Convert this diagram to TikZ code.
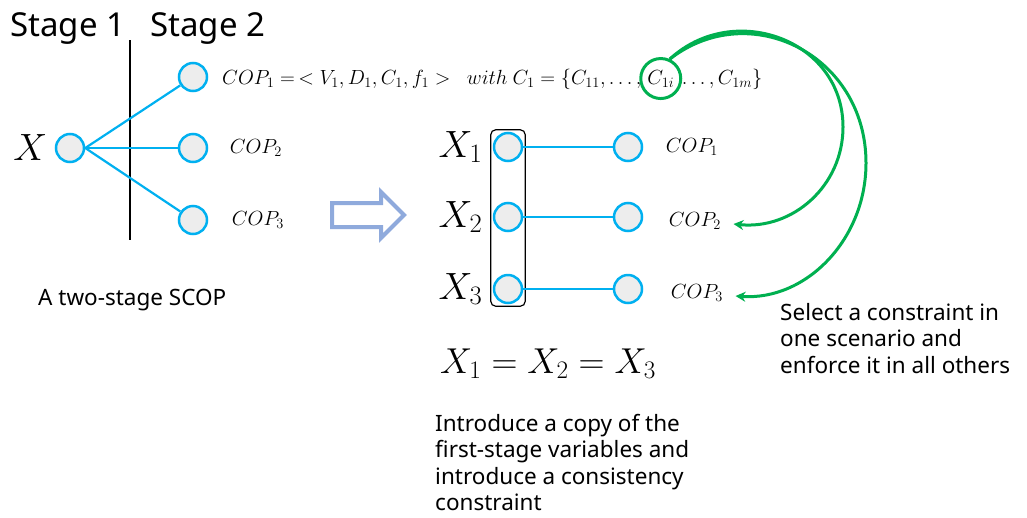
\documentclass[tikz,border=0pt]{standalone}
\usepackage{fix-cm}
\usepackage{fontspec}
\setmainfont{Noto Sans}
\usetikzlibrary{positioning,fit,shapes.arrows,arrows.meta}
\definecolor{linkblue}{RGB}{0,176,240}
\definecolor{nodegray}{RGB}{237,237,237}
\definecolor{pickgreen}{RGB}{0,176,80}
\definecolor{arrowblue}{RGB}{143,170,220}
\tikzset{
  var/.style={circle,draw=linkblue,fill=nodegray,line width=2.5pt,minimum size=28pt,inner sep=0pt},
  link/.style={draw=linkblue,line width=2.2pt},
  pick/.style={draw=pickgreen,line width=3pt,-{Stealth[length=10pt,width=10pt]}},
  ring/.style={circle,draw=pickgreen,line width=3pt,minimum size=40pt,inner sep=0pt,anchor=base},
  big/.style={font=\fontsize{38}{44}\selectfont},
  small/.style={font=\fontsize{20.5}{24}\selectfont},
  note/.style={font=\fontsize{22.5}{26.5}\selectfont,align=left,anchor=north west,inner sep=0pt},
}
\begin{document}
\begin{tikzpicture}[x=1pt,y=-1pt]
\useasboundingbox (0,0) rectangle (1027,517);
% the two-stage problem
\node[font=\fontsize{33}{38}\selectfont,anchor=base west,inner sep=0pt] (st1) at (10,36) {Stage 1};
\node[font=\fontsize{33}{38}\selectfont,anchor=base west,inner sep=0pt] (st2) at (150,36) {Stage 2};
\coordinate (cutTop) at (130,40);
\coordinate (cutBot) at (130,240);
\draw[line width=2.5pt] (cutTop) -- (cutBot);

\node[var] (x) at (70,148) {};
\node[big,left=4pt of x] (lx) {$X$};
\node[var] (a1) at (193,77) {};
\node[var] (a2) at (193,148) {};
\node[var] (a3) at (193,220) {};
\foreach \i in {1,2,3}
  \draw[link] (x.east) -- (a\i);

\node[small,anchor=base west,inner sep=0pt] (d1a) at (222,84)
  {$COP_1 = \,<V_1,D_1,C_1,f_1>\ \ with\ C_1=\{C_{11},\dots,$};
\node[small,ring] (c1i) at ([xshift=19pt]d1a.base east) {$C_{1i}$};
\node[small,anchor=base west,inner sep=0pt] (d1b) at ([xshift=21pt]c1i.base) {$\dots,C_{1m}\}$};
\node[small,right=18pt of a2] (la2) {$COP_2$};
\node[small,right=20pt of a3] (la3) {$COP_3$};

\node[font=\fontsize{22.5}{26}\selectfont,anchor=base west,inner sep=0pt] (cap1) at (38,305) {A two-stage SCOP};

% reformulation
\node[single arrow,draw=arrowblue,line width=4pt,inner sep=10pt,minimum height=72pt,
  single arrow head extend=11pt] (trans) at (362,215) {};

\node[var] (y1) at (508,147) {};
\node[var] (y2) at (508,217) {};
\node[var] (y3) at (508,289) {};
\node[draw,rounded corners=5pt,line width=1.2pt,fit=(y1)(y3),inner sep=2pt] (copybox) {};
\foreach \i in {1,2,3} {
  \node[big,left=7pt of y\i] (ly\i) {$X_\i$};
}
\node[var] (z1) at (628,147) {};
\node[var] (z2) at (628,217) {};
\node[var] (z3) at (628,289) {};
\foreach \i in {1,2,3}
  \draw[link] (y\i) -- (z\i);
\node[small,right=19pt of z1] (lz1) {$COP_1$};
\node[small,right=22pt of z2,yshift=-4pt] (lz2) {$COP_2$};
\node[small,right=24pt of z3,yshift=-4pt] (lz3) {$COP_3$};

\node[font=\fontsize{36}{42}\selectfont,anchor=base west,inner sep=0pt] (eq) at (440,373) {$X_1 = X_2 = X_3$};
\node[note] (introtxt) at (435,414) {Introduce a copy of the\\first-stage variables and\\introduce a consistency\\constraint};

% constraint copied to the other scenarios
\coordinate (bendA) at (843,127);
\coordinate (bendB) at (866,163);
\draw[pick] (c1i.65) .. controls +(64,-59) and +(0,-87) .. (bendA)
  .. controls +(0,59) and +(59,6) .. ([shift={(9,3)}]lz2.east);
\draw[pick] (c1i.65) .. controls +(80,-62) and +(0,-108) .. (bendB)
  .. controls +(0,77) and +(70,5) .. ([shift={(9,3)}]lz3.east);
\node[note] (picktxt) at (780,303) {Select a constraint in\\one scenario and\\enforce it in all others};
\end{tikzpicture}
\end{document}
